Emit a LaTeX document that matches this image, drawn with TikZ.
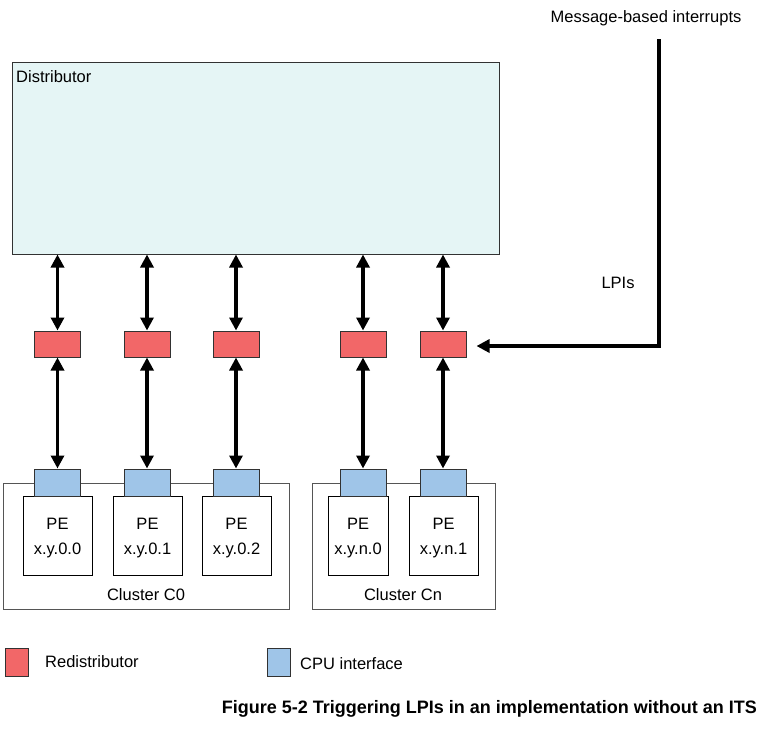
\documentclass[tikz,border=0pt]{standalone}
\usepackage{fontspec}
\setmainfont{Liberation Sans}
\usetikzlibrary{arrows.meta}
\definecolor{distfill}{RGB}{229,245,245}
\definecolor{redfill}{RGB}{242,103,104}
\definecolor{bluefill}{RGB}{159,197,232}
\definecolor{edge}{RGB}{50,50,50}
\definecolor{grayedge}{RGB}{85,85,85}
\begin{document}
\begin{tikzpicture}[x=1pt,y=-1pt,
  every node/.style={font=\fontsize{16.5}{25}\selectfont, inner sep=0pt},
  redist/.style={draw=edge, line width=1pt, fill=redfill, minimum width=46pt, minimum height=26pt},
  cpuif/.style={draw=edge, line width=1pt, fill=bluefill, minimum width=46pt, minimum height=27pt},
  pebox/.style={draw=black, line width=1pt, fill=white, minimum width=69pt, minimum height=79pt},
  petext/.style={align=center},
  cluster/.style={draw=grayedge, line width=1pt},
  dbl/.style={line width=3.2pt, {Triangle[length=13pt,width=13pt]}-{Triangle[length=13pt,width=13pt]}},
  sgl/.style={line width=3.2pt, -{Triangle[length=13pt,width=13pt]}},
]
\useasboundingbox (0,0) rectangle (765,728);

% Distributor
\node[draw=edge, line width=1pt, fill=distfill, minimum width=487pt, minimum height=192pt] (dist) at (255.5,158) {};
\node[anchor=west] (distlbl) at (16,77) {Distributor};

% Redistributors
\node[redist] (r1) at (57.5,344) {};
\node[redist] (r2) at (147,344) {};
\node[redist] (r3) at (236,344) {};
\node[redist] (r4) at (363,344) {};
\node[redist] (r5) at (443,344) {};

% Clusters
\draw[cluster] (3,483) rectangle (289,609);
\draw[cluster] (312,483) rectangle (495,609);
\node (c0lbl) at (146,595) {Cluster C0};
\node (cnlbl) at (403,595) {Cluster Cn};

% PEs
\node[pebox] (pe1) at (57.5,535.5) {};
\node[pebox] (pe2) at (147.5,535.5) {};
\node[pebox] (pe3) at (236.5,535.5) {};
\node[pebox, minimum width=60pt] (pe4) at (358,535.5) {};
\node[pebox] (pe5) at (443.5,535.5) {};
\node[petext] (pe1t) at ([yshift=-3pt]pe1.center) {PE\\x.y.0.0};
\node[petext] (pe2t) at ([yshift=-3pt]pe2.center) {PE\\x.y.0.1};
\node[petext] (pe3t) at ([yshift=-3pt]pe3.center) {PE\\x.y.0.2};
\node[petext] (pe4t) at ([yshift=-3pt]pe4.center) {PE\\x.y.n.0};
\node[petext] (pe5t) at ([yshift=-3pt]pe5.center) {PE\\x.y.n.1};

% CPU interfaces
\node[cpuif] (c1) at (57.5,482.5) {};
\node[cpuif] (c2) at (147,482.5) {};
\node[cpuif] (c3) at (236,482.5) {};
\node[cpuif] (c4) at (363,482.5) {};
\node[cpuif] (c5) at (443,482.5) {};

% Arrows distributor <-> redistributors <-> CPU interfaces
\foreach \i in {1,...,5}{
  \draw[dbl] (r\i.north |- dist.south) -- (r\i.north);
  \draw[dbl] (r\i.south) -- (c\i.north);
}

% Message-based interrupts
\node (msg) at (646,18) {Message-based interrupts};
\coordinate (mstart) at (659,39);
\coordinate (mcorner) at (659,346);
\draw[sgl] (mstart) -- (mcorner) -- ([xshift=10pt]r5.east |- mcorner);
\node (lpis) at (618,283) {LPIs};

% Legend
\node[redist, minimum width=23pt, minimum height=28pt] (legr) at (16.5,662) {};
\node[anchor=west] (legrt) at (45,662) {Redistributor};
\node[cpuif, minimum width=23pt, minimum height=28pt] (legb) at (278.5,662) {};
\node[anchor=west] (legbt) at (300,664) {CPU interface};

% Caption
\node[anchor=east, font=\fontsize{18}{20}\selectfont\bfseries] (cap) at (757,709) {Figure 5-2 Triggering LPIs in an implementation without an ITS};
\end{tikzpicture}
\end{document}
